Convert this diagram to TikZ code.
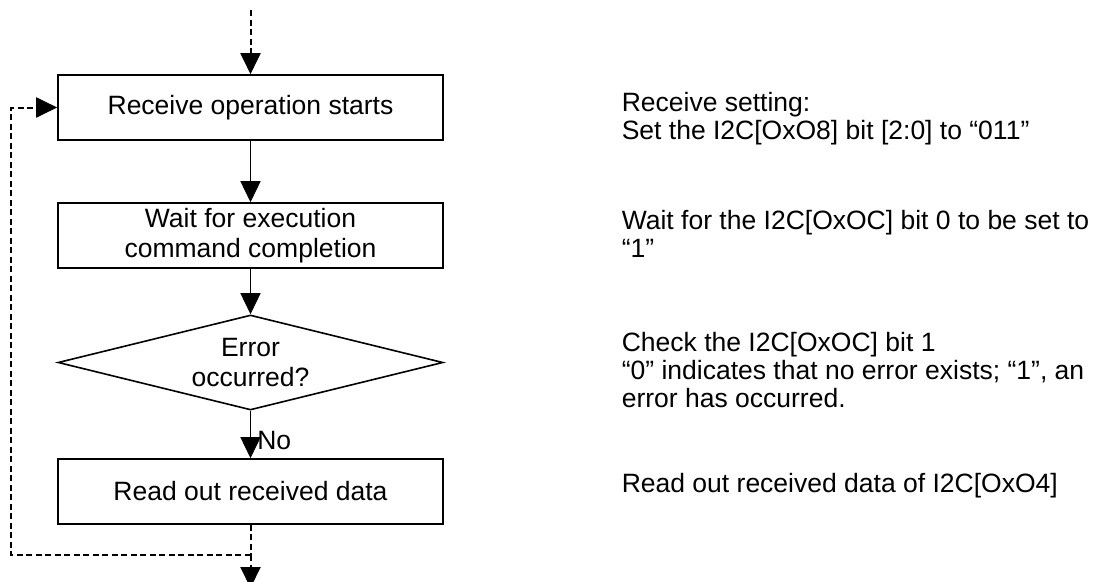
\documentclass[tikz,border=0pt]{standalone}
\usepackage{fontspec}
\setmainfont{Liberation Sans}
\usetikzlibrary{arrows.meta,shapes.geometric}
\begin{document}
\begin{tikzpicture}[x=1pt,y=-1pt,
  font=\fontsize{26.5}{30}\selectfont,
  line width=1.6pt,
  >={Triangle[length=21pt,width=20pt]},
  stepbox/.style={draw, rectangle, minimum width=385pt, minimum height=65pt, inner sep=0pt, align=center},
  decision/.style={draw, diamond, aspect=4, minimum width=385pt, minimum height=95pt, inner sep=0pt, align=center},
  note/.style={anchor=base west, inner sep=0pt, align=left, font=\fontsize{26.5}{28}\selectfont},
  flow/.style={->},
  loopline/.style={dash pattern=on 6pt off 3.5pt, line width=2pt},
]
\useasboundingbox (0,0) rectangle (1094,581);
\clip (0,0) rectangle (1094,581);

\coordinate (top) at (250.5,10);
\node[stepbox] (b1) at (250.5,107.5) {Receive operation starts};
\node[stepbox] (b2) at (250.5,235.5) {Wait for execution\\command completion};
\node[decision] (d) at (250.5,362.5) {Error\\occurred?};
\node[stepbox] (b4) at (250.5,491.5) {Read out received data};
\coordinate (j) at (250.5,555);
\coordinate (lc) at (11,555);
\coordinate (bot) at (250.5,588);

\draw[loopline,->] (top) -- (b1.north);
\draw[flow] (b1.south) -- (b2.north);
\draw[flow] (b2.south) -- (d.north);
\draw[flow] (d.south) -- node[pos=0.62, anchor=west, inner sep=0pt, xshift=6pt] (no) {No} (b4.north);
\draw[loopline] (b4.south) -- (j);
\draw[loopline,->] (j) -- (bot);
\draw[loopline,->] (j) -- (lc) |- (b1.west);

\node[note] (n1) at (621,139) {Receive setting:\\Set the I2C[OxO8] bit [2:0] to “011”};
\node[note] (n2) at (621,257) {Wait for the I2C[OxOC] bit 0 to be set to\\“1”};
\node[note] (n3) at (621,407) {Check the I2C[OxOC] bit 1\\“0” indicates that no error exists; “1”, an\\error has occurred.};
\node[note] (n4) at (621,492) {Read out received data of I2C[OxO4]};
\end{tikzpicture}
\end{document}
